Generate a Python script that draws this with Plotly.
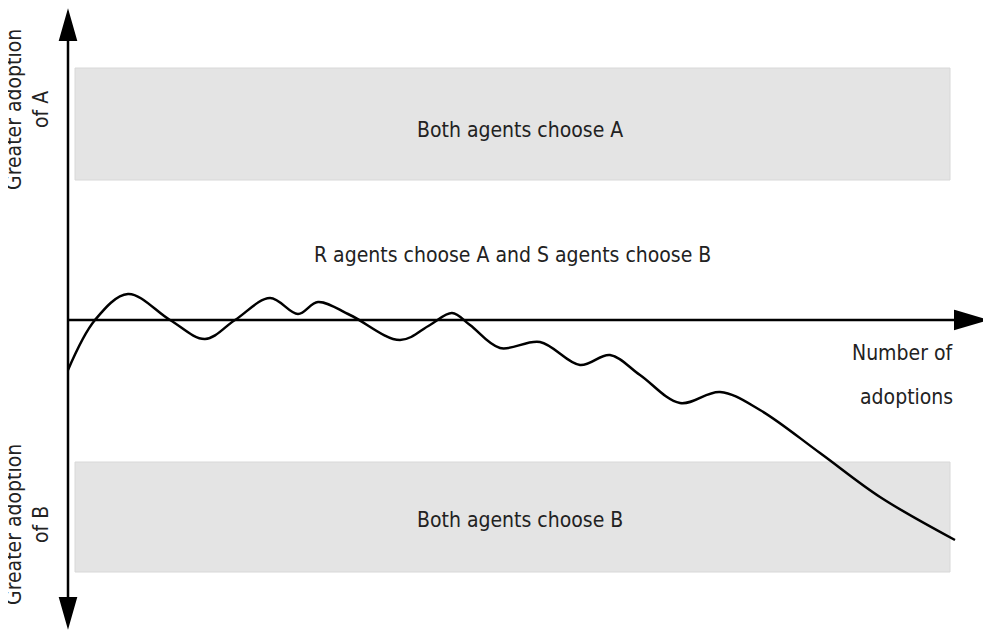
import plotly.graph_objects as go

# schematic curve (pixel-like units, y grows downward)
curve_x = [68, 95, 128, 170, 205, 235, 270, 298, 318, 350, 400, 430, 452, 470,
           500, 540, 580, 610, 640, 680, 720, 760, 820, 880, 955]
curve_y = [370, 320, 294, 320, 339, 320, 298, 314, 302, 315, 340, 325, 313, 325,
           348, 342, 365, 355, 375, 403, 392, 410, 453, 497, 540]

band_labels = ["Both agents choose A", "Both agents choose B"]
middle_label = "R agents choose A and S agents choose B"

fig = go.Figure()
fig.add_trace(go.Scatter(x=curve_x, y=curve_y, mode="lines",
                         line=dict(color="black", width=2.5, shape="spline", smoothing=1.0),
                         hoverinfo="skip"))

band = dict(type="rect", layer="below", fillcolor="#e4e4e4",
            line=dict(color="#d8d8d8", width=1))
fig.add_shape(**band, x0=75, x1=950, y0=68, y1=180)
fig.add_shape(**band, x0=75, x1=950, y0=462, y1=572)

# axes with arrow heads
fig.add_shape(type="line", x0=68, x1=68, y0=30, y1=605, line=dict(color="black", width=2.5))
fig.add_shape(type="line", x0=68, x1=960, y0=320, y1=320, line=dict(color="black", width=2.5))
fig.add_shape(type="path", path="M 60 40 L 68 12 L 76 40 Z", fillcolor="black", line=dict(color="black"))
fig.add_shape(type="path", path="M 60 598 L 68 626 L 76 598 Z", fillcolor="black", line=dict(color="black"))
fig.add_shape(type="path", path="M 955 311 L 985 320 L 955 329 Z", fillcolor="black", line=dict(color="black"))

font = dict(family="DejaVu Sans Condensed, DejaVu Sans", size=21, color="#222")
fig.add_annotation(x=520, y=130, text=band_labels[0], showarrow=False, font=font)
fig.add_annotation(x=520, y=520, text=band_labels[1], showarrow=False, font=font)
fig.add_annotation(x=512, y=255, text=middle_label, showarrow=False, font=font)
fig.add_annotation(x=955, y=353, text="Number of", showarrow=False, font=font, xanchor="right")
fig.add_annotation(x=955, y=397, text="adoptions", showarrow=False, font=font, xanchor="right")
fig.add_annotation(x=27, y=110, text="Greater adoption<br>of A", showarrow=False,
                   font=font, textangle=-90)
fig.add_annotation(x=27, y=525, text="Greater adoption<br>of B", showarrow=False,
                   font=font, textangle=-90)

# ranges shifted by the page's 8px body margin
fig.update_layout(width=991, height=636, margin=dict(l=0, r=0, t=0, b=0),
                  plot_bgcolor="white", paper_bgcolor="white", showlegend=False,
                  xaxis=dict(range=[8, 999], visible=False, fixedrange=True),
                  yaxis=dict(range=[644, 8], visible=False, fixedrange=True))
fig.write_html("out.html")
